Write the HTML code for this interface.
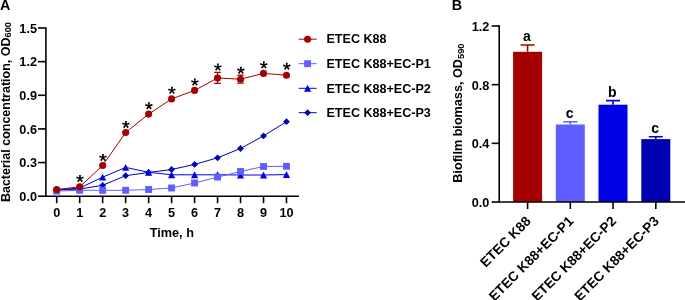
<!DOCTYPE html>
<html><head><meta charset="utf-8"><style>
html,body{margin:0;padding:0;background:#fff;}
svg{display:block;will-change:transform;opacity:0.999;font-family:"Liberation Sans",sans-serif;font-weight:bold;fill:#000;}
</style></head><body>
<svg width="685" height="300" viewBox="0 0 685 300">
<rect width="685" height="300" fill="#fff"/>
<text x="0" y="10.4" font-size="14.4">A</text>
<text x="451.8" y="10.4" font-size="14.4">B</text>
<g stroke="#000" stroke-width="1.6" fill="none">
<path d="M45.9 27.20V197.0"/>
<path d="M45.1 196.2H299"/>
<path d="M38 196.20H45.9"/>
<path d="M38 162.56H45.9"/>
<path d="M38 128.92H45.9"/>
<path d="M38 95.28H45.9"/>
<path d="M38 61.64H45.9"/>
<path d="M38 28.00H45.9"/>
<path d="M56.7 196.2V203.2"/>
<path d="M79.68 196.2V203.2"/>
<path d="M102.66 196.2V203.2"/>
<path d="M125.64 196.2V203.2"/>
<path d="M148.62 196.2V203.2"/>
<path d="M171.6 196.2V203.2"/>
<path d="M194.58 196.2V203.2"/>
<path d="M217.56 196.2V203.2"/>
<path d="M240.54 196.2V203.2"/>
<path d="M263.52 196.2V203.2"/>
<path d="M286.5 196.2V203.2"/>
</g>
<text x="37" y="200.80" font-size="12.7" text-anchor="end">0.0</text>
<text x="37" y="167.16" font-size="12.7" text-anchor="end">0.3</text>
<text x="37" y="133.52" font-size="12.7" text-anchor="end">0.6</text>
<text x="37" y="99.88" font-size="12.7" text-anchor="end">0.9</text>
<text x="37" y="66.24" font-size="12.7" text-anchor="end">1.2</text>
<text x="37" y="32.60" font-size="12.7" text-anchor="end">1.5</text>
<text x="56.7" y="216.8" font-size="12.7" text-anchor="middle">0</text>
<text x="79.68" y="216.8" font-size="12.7" text-anchor="middle">1</text>
<text x="102.66" y="216.8" font-size="12.7" text-anchor="middle">2</text>
<text x="125.64" y="216.8" font-size="12.7" text-anchor="middle">3</text>
<text x="148.62" y="216.8" font-size="12.7" text-anchor="middle">4</text>
<text x="171.6" y="216.8" font-size="12.7" text-anchor="middle">5</text>
<text x="194.58" y="216.8" font-size="12.7" text-anchor="middle">6</text>
<text x="217.56" y="216.8" font-size="12.7" text-anchor="middle">7</text>
<text x="240.54" y="216.8" font-size="12.7" text-anchor="middle">8</text>
<text x="263.52" y="216.8" font-size="12.7" text-anchor="middle">9</text>
<text x="286.5" y="216.8" font-size="12.7" text-anchor="middle">10</text>
<text x="171.8" y="237.4" font-size="12.7" text-anchor="middle">Time, h</text>
<text transform="translate(9.7,202.1) rotate(-90)" font-size="12.5">Bacterial concentration, OD<tspan font-size="9.2" dy="1.6">600</tspan></text>
<polyline points="56.7,190 79.68,189 102.66,185.3 125.64,175.7 148.62,172.5 171.6,169.5 194.58,164.4 217.56,157.8 240.54,148.5 263.52,135.9 286.5,121.7" fill="none" stroke="#0000b4" stroke-width="1"/>
<path d="M56.7 186.60L60.10 190L56.7 193.40L53.30 190Z" fill="#0000b4"/>
<path d="M79.68 185.60L83.08 189L79.68 192.40L76.28 189Z" fill="#0000b4"/>
<path d="M102.66 181.90L106.06 185.3L102.66 188.70L99.26 185.3Z" fill="#0000b4"/>
<path d="M125.64 172.30L129.04 175.7L125.64 179.10L122.24 175.7Z" fill="#0000b4"/>
<path d="M148.62 169.10L152.02 172.5L148.62 175.90L145.22 172.5Z" fill="#0000b4"/>
<path d="M171.6 166.10L175.00 169.5L171.6 172.90L168.20 169.5Z" fill="#0000b4"/>
<path d="M194.58 161.00L197.98 164.4L194.58 167.80L191.18 164.4Z" fill="#0000b4"/>
<path d="M217.56 154.40L220.96 157.8L217.56 161.20L214.16 157.8Z" fill="#0000b4"/>
<path d="M240.54 145.10L243.94 148.5L240.54 151.90L237.14 148.5Z" fill="#0000b4"/>
<path d="M263.52 132.50L266.92 135.9L263.52 139.30L260.12 135.9Z" fill="#0000b4"/>
<path d="M286.5 118.30L289.90 121.7L286.5 125.10L283.10 121.7Z" fill="#0000b4"/>
<polyline points="56.7,190 79.68,188 102.66,177.2 125.64,167.4 148.62,172.3 171.6,174.8 194.58,174.8 217.56,174.8 240.54,175 263.52,175 286.5,174.6" fill="none" stroke="#0000e6" stroke-width="1"/>
<path d="M56.7 186.50L60.30 193.40H53.10Z" fill="#0000e6"/>
<path d="M79.68 184.50L83.28 191.40H76.08Z" fill="#0000e6"/>
<path d="M102.66 173.70L106.26 180.60H99.06Z" fill="#0000e6"/>
<path d="M125.64 163.90L129.24 170.80H122.04Z" fill="#0000e6"/>
<path d="M148.62 168.80L152.22 175.70H145.02Z" fill="#0000e6"/>
<path d="M171.6 171.30L175.20 178.20H168.00Z" fill="#0000e6"/>
<path d="M194.58 171.30L198.18 178.20H190.98Z" fill="#0000e6"/>
<path d="M217.56 171.30L221.16 178.20H213.96Z" fill="#0000e6"/>
<path d="M240.54 171.50L244.14 178.40H236.94Z" fill="#0000e6"/>
<path d="M263.52 171.50L267.12 178.40H259.92Z" fill="#0000e6"/>
<path d="M286.5 171.10L290.10 178.00H282.90Z" fill="#0000e6"/>
<polyline points="56.7,191.1 79.68,190.3 102.66,190.3 125.64,190.3 148.62,189.5 171.6,188 194.58,183 217.56,177.1 240.54,171.5 263.52,166.5 286.5,166.3" fill="none" stroke="#5f5fff" stroke-width="1"/>
<rect x="53.25" y="187.65" width="6.9" height="6.9" fill="#5f5fff"/>
<rect x="76.23" y="186.85" width="6.9" height="6.9" fill="#5f5fff"/>
<rect x="99.21" y="186.85" width="6.9" height="6.9" fill="#5f5fff"/>
<rect x="122.19" y="186.85" width="6.9" height="6.9" fill="#5f5fff"/>
<rect x="145.17" y="186.05" width="6.9" height="6.9" fill="#5f5fff"/>
<rect x="168.15" y="184.55" width="6.9" height="6.9" fill="#5f5fff"/>
<rect x="191.13" y="179.55" width="6.9" height="6.9" fill="#5f5fff"/>
<rect x="214.11" y="173.65" width="6.9" height="6.9" fill="#5f5fff"/>
<rect x="237.09" y="168.05" width="6.9" height="6.9" fill="#5f5fff"/>
<rect x="260.07" y="163.05" width="6.9" height="6.9" fill="#5f5fff"/>
<rect x="283.05" y="162.85" width="6.9" height="6.9" fill="#5f5fff"/>
<polyline points="56.7,189.5 79.68,186.8 102.66,165.5 125.64,132.5 148.62,114.1 171.6,98.9 194.58,90.4 217.56,78 240.54,79.2 263.52,73.4 286.5,75.2" fill="none" stroke="#a50000" stroke-width="1"/>
<path d="M217.56 72.4V83.4M214.26 72.4H220.86M214.26 83.4H220.86" stroke="#a50000" stroke-width="1.3" fill="none"/>
<path d="M240.54 75.2V83.2M237.24 75.2H243.84M237.24 83.2H243.84" stroke="#a50000" stroke-width="1.3" fill="none"/>
<circle cx="56.7" cy="189.5" r="3.55" fill="#a50000"/>
<circle cx="79.68" cy="186.8" r="3.55" fill="#a50000"/>
<circle cx="102.66" cy="165.5" r="3.55" fill="#a50000"/>
<circle cx="125.64" cy="132.5" r="3.55" fill="#a50000"/>
<circle cx="148.62" cy="114.1" r="3.55" fill="#a50000"/>
<circle cx="171.6" cy="98.9" r="3.55" fill="#a50000"/>
<circle cx="194.58" cy="90.4" r="3.55" fill="#a50000"/>
<circle cx="217.56" cy="78" r="3.55" fill="#a50000"/>
<circle cx="240.54" cy="79.2" r="3.55" fill="#a50000"/>
<circle cx="263.52" cy="73.4" r="3.55" fill="#a50000"/>
<circle cx="286.5" cy="75.2" r="3.55" fill="#a50000"/>
<path d="M80.53 178.60L80.93 174.90L79.03 174.90L79.43 178.60ZM80.15 179.12L83.79 178.36L83.21 176.55L79.81 178.08ZM79.54 178.92L81.39 182.15L82.92 181.03L80.42 178.28ZM79.54 178.28L77.04 181.03L78.57 182.15L80.42 178.92ZM80.15 178.08L76.75 176.55L76.17 178.36L79.81 179.12Z" fill="#000"/>
<path d="M103.51 157.60L103.91 153.90L102.01 153.90L102.41 157.60ZM103.13 158.12L106.77 157.36L106.19 155.55L102.79 157.08ZM102.52 157.92L104.37 161.15L105.90 160.03L103.40 157.28ZM102.52 157.28L100.02 160.03L101.55 161.15L103.40 157.92ZM103.13 157.08L99.73 155.55L99.15 157.36L102.79 158.12Z" fill="#000"/>
<path d="M126.49 124.60L126.89 120.90L124.99 120.90L125.39 124.60ZM126.11 125.12L129.75 124.36L129.17 122.55L125.77 124.08ZM125.50 124.92L127.35 128.15L128.88 127.03L126.38 124.28ZM125.50 124.28L123.00 127.03L124.53 128.15L126.38 124.92ZM126.11 124.08L122.71 122.55L122.13 124.36L125.77 125.12Z" fill="#000"/>
<path d="M149.47 105.90L149.87 102.20L147.97 102.20L148.37 105.90ZM149.09 106.42L152.73 105.66L152.15 103.85L148.75 105.38ZM148.48 106.22L150.33 109.45L151.86 108.33L149.36 105.58ZM148.48 105.58L145.98 108.33L147.51 109.45L149.36 106.22ZM149.09 105.38L145.69 103.85L145.11 105.66L148.75 106.42Z" fill="#000"/>
<path d="M172.45 90.50L172.85 86.80L170.95 86.80L171.35 90.50ZM172.07 91.02L175.71 90.26L175.13 88.45L171.73 89.98ZM171.46 90.82L173.31 94.05L174.84 92.93L172.34 90.18ZM171.46 90.18L168.96 92.93L170.49 94.05L172.34 90.82ZM172.07 89.98L168.67 88.45L168.09 90.26L171.73 91.02Z" fill="#000"/>
<path d="M195.43 82.20L195.83 78.50L193.93 78.50L194.33 82.20ZM195.05 82.72L198.69 81.96L198.11 80.15L194.71 81.68ZM194.44 82.52L196.29 85.75L197.82 84.63L195.32 81.88ZM194.44 81.88L191.94 84.63L193.47 85.75L195.32 82.52ZM195.05 81.68L191.65 80.15L191.07 81.96L194.71 82.72Z" fill="#000"/>
<path d="M218.41 67.20L218.81 63.50L216.91 63.50L217.31 67.20ZM218.03 67.72L221.67 66.96L221.09 65.15L217.69 66.68ZM217.42 67.52L219.27 70.75L220.80 69.63L218.30 66.88ZM217.42 66.88L214.92 69.63L216.45 70.75L218.30 67.52ZM218.03 66.68L214.63 65.15L214.05 66.96L217.69 67.72Z" fill="#000"/>
<path d="M241.39 70.40L241.79 66.70L239.89 66.70L240.29 70.40ZM241.01 70.92L244.65 70.16L244.07 68.35L240.67 69.88ZM240.40 70.72L242.25 73.95L243.78 72.83L241.28 70.08ZM240.40 70.08L237.90 72.83L239.43 73.95L241.28 70.72ZM241.01 69.88L237.61 68.35L237.03 70.16L240.67 70.92Z" fill="#000"/>
<path d="M264.37 65.00L264.77 61.30L262.87 61.30L263.27 65.00ZM263.99 65.52L267.63 64.76L267.05 62.95L263.65 64.48ZM263.38 65.32L265.23 68.55L266.76 67.43L264.26 64.68ZM263.38 64.68L260.88 67.43L262.41 68.55L264.26 65.32ZM263.99 64.48L260.59 62.95L260.01 64.76L263.65 65.52Z" fill="#000"/>
<path d="M287.35 66.40L287.75 62.70L285.85 62.70L286.25 66.40ZM286.97 66.92L290.61 66.16L290.03 64.35L286.63 65.88ZM286.36 66.72L288.21 69.95L289.74 68.83L287.24 66.08ZM286.36 66.08L283.86 68.83L285.39 69.95L287.24 66.72ZM286.97 65.88L283.57 64.35L282.99 66.16L286.63 66.92Z" fill="#000"/>
<path d="M298.7 39.2H316.7" stroke="#a50000" stroke-width="1"/>
<circle cx="307.6" cy="39.2" r="3.55" fill="#a50000"/>
<text x="326.5" y="43.4" font-size="12.55">ETEC K88</text>
<path d="M298.7 63.7H316.7" stroke="#5f5fff" stroke-width="1"/>
<rect x="304.15" y="60.25" width="6.9" height="6.9" fill="#5f5fff"/>
<text x="326.5" y="67.9" font-size="12.55">ETEC K88+EC-P1</text>
<path d="M298.7 88.3H316.7" stroke="#0000e6" stroke-width="1"/>
<path d="M307.6 84.80L311.20 91.70H304.00Z" fill="#0000e6"/>
<text x="326.5" y="92.5" font-size="12.55">ETEC K88+EC-P2</text>
<path d="M298.7 112.7H316.7" stroke="#0000b4" stroke-width="1"/>
<path d="M307.6 109.30L311.00 112.7L307.6 116.10L304.20 112.7Z" fill="#0000b4"/>
<text x="326.5" y="116.9" font-size="12.55">ETEC K88+EC-P3</text>
<g stroke="#000" stroke-width="1.6" fill="none">
<path d="M499.2 25.19V202.8"/>
<path d="M491.7 202.00H499.2"/>
<path d="M491.7 143.33H499.2"/>
<path d="M491.7 84.66H499.2"/>
<path d="M491.7 25.99H499.2"/>
<path d="M527.6 202.0V209"/>
<path d="M570.3 202.0V209"/>
<path d="M613 202.0V209"/>
<path d="M655.8 202.0V209"/>
</g>
<text x="489.4" y="206.90" font-size="12.7" text-anchor="end">0.0</text>
<text x="489.4" y="148.23" font-size="12.7" text-anchor="end">0.4</text>
<text x="489.4" y="89.56" font-size="12.7" text-anchor="end">0.8</text>
<text x="489.4" y="30.89" font-size="12.7" text-anchor="end">1.2</text>
<text transform="translate(462.3,182.7) rotate(-90)" font-size="12.65">Biofilm biomass, OD<tspan font-size="9.4" dy="2.1">590</tspan></text>
<path d="M527.6 51.8V45M520.6 45H534.6" stroke="#a50000" stroke-width="1.6" fill="none"/>
<rect x="513.1" y="51.8" width="29" height="150.20" fill="#a50000"/>
<text x="527.0" y="40.6" font-size="14" text-anchor="middle">a</text>
<text transform="translate(531.6,222) rotate(-45)" font-size="13.6" text-anchor="end">ETEC K88</text>
<path d="M570.3 124.5V121.8M563.3 121.8H577.3" stroke="#5f5fff" stroke-width="1.6" fill="none"/>
<rect x="555.8" y="124.5" width="29" height="77.50" fill="#5f5fff"/>
<text x="569.6999999999999" y="117.6" font-size="14" text-anchor="middle">c</text>
<text transform="translate(574.3,222) rotate(-45)" font-size="13.6" text-anchor="end">ETEC K88+EC-P1</text>
<path d="M613 104.7V100.6M606 100.6H620" stroke="#0000e6" stroke-width="1.6" fill="none"/>
<rect x="598.5" y="104.7" width="29" height="97.30" fill="#0000e6"/>
<text x="612.4" y="96.6" font-size="14" text-anchor="middle">b</text>
<text transform="translate(617,222) rotate(-45)" font-size="13.6" text-anchor="end">ETEC K88+EC-P2</text>
<path d="M655.8 139.1V136.8M648.8 136.8H662.8" stroke="#0000b4" stroke-width="1.6" fill="none"/>
<rect x="641.3" y="139.1" width="29" height="62.90" fill="#0000b4"/>
<text x="655.1999999999999" y="133.0" font-size="14" text-anchor="middle">c</text>
<text transform="translate(659.8,222) rotate(-45)" font-size="13.6" text-anchor="end">ETEC K88+EC-P3</text>
<path d="M498.4 202.0H685" stroke="#000" stroke-width="1.6"/>
</svg></body></html>
